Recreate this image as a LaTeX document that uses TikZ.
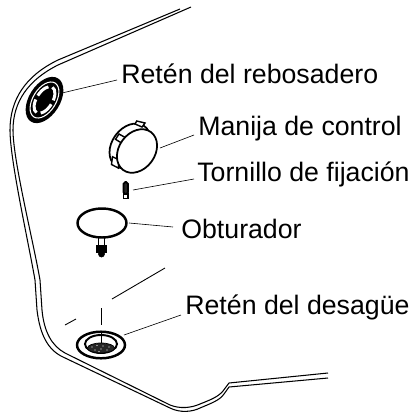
\documentclass[tikz,border=0pt]{standalone}
\usepackage{xcolor}
\usepackage{fontspec}
\setmainfont{Liberation Sans}
\tikzset{
  callout/.style={anchor=base west, inner sep=0pt, font=\fontsize{15.2pt}{18pt}\selectfont},
  leader/.style={draw, line width=0.35pt},
  rim/.style={draw, line width=0.6pt},
  axisline/.style={draw, line width=0.5pt}
}
\begin{document}
\begin{tikzpicture}[x=0.02cm, y=-0.02cm]%
\useasboundingbox (0,0) rectangle (416,413);%
% basin rim
\path[rim] (180,9) -- (58,60) .. controls (25,76) and (10,100) .. (10,130) .. controls (10,160) and (28,240) .. (35,280) -- (37,310) .. controls (40,335) and (48,350) .. (63,357) -- (170,408) .. controls (180,413) and (192,412) .. (200,408) .. controls (212,403) and (220,400) .. (224,394) -- (229,387) -- (328,378);%
\path[rim] (191,7) -- (58,65) .. controls (28,80) and (13,102) .. (13,130) .. controls (13,160) and (33,240) .. (40,280) -- (42,310) .. controls (44,332) and (52,346) .. (65,353) -- (170,405) .. controls (180,409) and (191,408) .. (200,404) .. controls (210,400) and (218,397) .. (223,391) -- (229,383) -- (328,373);%
% overflow retainer
\path[fill=black, rotate around={58:(44.5,100)}] (44.5,100) ellipse [x radius=25.5, y radius=15.5];%
\path[draw=white, line width=0.6pt, rotate around={58:(44.5,100)}] (44.5,100) ellipse [x radius=20, y radius=11.5];%
\path[draw=white, line width=1.7pt, dash pattern=on 8pt off 2.5pt, rotate around={58:(44.5,100)}] (44.5,100) ellipse [x radius=15, y radius=8];%
\path[fill=black, rotate around={58:(46,99)}] (46,99) ellipse [x radius=7, y radius=4];%
% control knob
\path[draw, line width=1pt, fill=white, rotate around={54:(130,146)}] (130,146) ellipse [x radius=24.5, y radius=18];%
\foreach \ax/\ay/\bx/\by/\cx/\cy/\dx/\dy in {136.7/121/145/123/142/127/135/124, 119/134/127/138.5/122/143.3/115.5/139.3, 112.5/156.7/119.3/160/118.3/168/111.5/164.5}
  \path[draw, line width=0.8pt, fill=white] (\ax,\ay) -- (\bx,\by) -- (\cx,\cy) -- (\dx,\dy) -- cycle;%
\path[draw, line width=1pt, fill=white, rotate around={54:(137,151)}] (137,151) ellipse [x radius=23.5, y radius=18];%
% set screw
\path[draw, line width=1pt, fill=black!85, rounded corners=1pt] (123.5,182) rectangle (128,194);%
\path[draw, line width=0.8pt, fill=white] (123.5,194) rectangle (128,198.5);%
% stopper
\path[draw, line width=0.9pt, fill=white] (98.5,236) rectangle (104.5,246);%
\path[draw, line width=1.2pt, fill=black] (97.5,246) rectangle (105.5,252);%
\path[draw, fill=black] (101.5,254) circle [radius=3];%
\path[draw, line width=1.4pt, fill=white] (102,223) ellipse [x radius=24.5, y radius=14.5];%
% axis lines
\coordinate (axisa) at (165,268);%
\coordinate (axisb) at (112,299);%
\coordinate (axisc) at (76,319);%
\coordinate (axisd) at (65,325);%
\coordinate (axise) at (101,308);%
\coordinate (axisf) at (101,325);%
\path[axisline] (axisa) -- (axisb);%
\path[axisline] (axisc) -- (axisd);%
\path[axisline] (axise) -- (axisf);%
% drain retainer
\path[draw, line width=1.4pt, fill=white] (101,345) ellipse [x radius=24, y radius=13.3];%
\path[draw, line width=1.1pt] (101,344) ellipse [x radius=16, y radius=9];%
\path[draw, fill=black!85] (101,348) ellipse [x radius=13.5, y radius=5];%
\foreach \sx/\sy in {92/347, 97/345.5, 103/346, 109/347, 95/350, 101/349, 107/350, 99/351.5}
  \path[fill=white] (\sx,\sy) circle [radius=0.6];%
\path[draw, line width=0.5pt] (101,332) -- (101,343);%
% labels
\node[callout] (reboso) at (121,83) {Retén del rebosadero};%
\node[callout] (manija) at (198,135) {Manija de control};%
\node[callout] (tornillo) at (197,181) {Tornillo de fijación};%
\node[callout] (obtura) at (181,238) {Obturador};%
\node[callout] (desague) at (185,314) {Retén del desagüe};%
% leaders
\coordinate (retainer) at (62,93);%
\coordinate (retainerend) at (117,80);%
\coordinate (knob) at (160,148);%
\coordinate (knobend) at (194,135);%
\coordinate (screw) at (133,190);%
\coordinate (screwend) at (194,179);%
\coordinate (stopper) at (129,223);%
\coordinate (stopperend) at (173,227);%
\coordinate (drain) at (124,335);%
\coordinate (drainend) at (181,315);%
\path[leader] (retainer) -- (retainerend);%
\path[leader] (knob) -- (knobend);%
\path[leader] (screw) -- (screwend);%
\path[leader] (stopper) -- (stopperend);%
\path[leader] (drain) -- (drainend);%
\end{tikzpicture}
\end{document}
